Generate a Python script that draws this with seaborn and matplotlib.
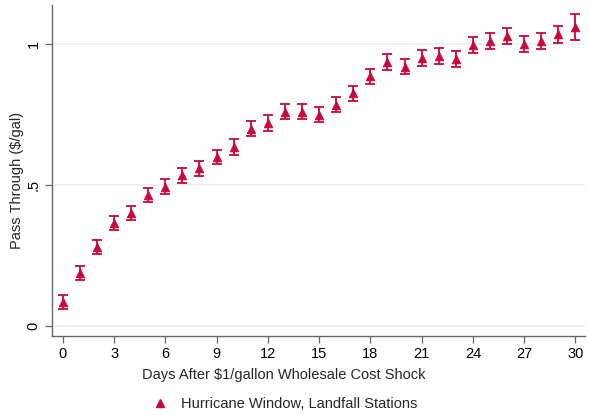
import matplotlib
matplotlib.use("Agg")
import matplotlib.pyplot as plt
import seaborn as sns
import numpy as np
import pandas as pd

days = list(range(0, 31))
pass_through = [0.085, 0.19, 0.28, 0.365, 0.40, 0.465, 0.495, 0.535, 0.56, 0.60, 0.635,
                0.70, 0.72, 0.76, 0.76, 0.75, 0.785, 0.825, 0.885, 0.935, 0.92,
                0.95, 0.957, 0.947, 0.995, 1.01, 1.028, 1.0, 1.01, 1.035, 1.06]
half_ci = [0.025, 0.025, 0.025, 0.025, 0.025, 0.025, 0.026, 0.026, 0.026, 0.026, 0.027,
           0.027, 0.027, 0.027, 0.027, 0.027, 0.027, 0.027, 0.027, 0.028, 0.028,
           0.028, 0.028, 0.028, 0.028, 0.028, 0.028, 0.028, 0.028, 0.03, 0.046]
x_ticks = [0, 3, 6, 9, 12, 15, 18, 21, 24, 27, 30]
y_ticks = [0, 0.5, 1]
y_tick_labels = ["0", ".5", "1"]
series_name = "Hurricane Window, Landfall Stations"

df = pd.DataFrame({"day": days, "pt": pass_through, "err": half_ci})

sns.set_theme(style="white")
plt.rcParams["font.family"] = ["Liberation Sans", "DejaVu Sans"]

color = "#C8073D"
fs = 10.5
fig = plt.figure(figsize=(5.89, 4.15), dpi=100)
ax = fig.add_axes([0.088, 0.19, 0.905, 0.798])

for yv in y_ticks:
    ax.axhline(yv, color="#EFEFEF", lw=1.2, zorder=0)

ax.errorbar(df["day"], df["pt"], yerr=df["err"], fmt="none", ecolor=color,
            elinewidth=1.3, capsize=3.5, capthick=1.3, zorder=2)
sns.scatterplot(data=df, x="day", y="pt", marker="^", s=40, color=color,
                edgecolor=color, linewidth=0.5, ax=ax, zorder=3, label=series_name,
                legend=False)

ax.set_xlim(-0.64, 30.55)
ax.set_ylim(-0.035, 1.138)
ax.set_xticks(x_ticks)
ax.set_xticklabels([str(t) for t in x_ticks], fontsize=fs)
ax.set_yticks(y_ticks)
ax.set_yticklabels(y_tick_labels, fontsize=fs, rotation=90, va="center")
ax.set_xlabel("Days After $1/gallon Wholesale Cost Shock", fontsize=fs)
ax.set_ylabel("Pass Through ($/gal)", fontsize=fs)
ax.xaxis.set_label_coords(0.435, -0.095)
ax.yaxis.set_label_coords(-0.052, 0.47)

for side in ["top", "right"]:
    ax.spines[side].set_visible(False)
for side in ["left", "bottom"]:
    ax.spines[side].set_color("#666666")
    ax.spines[side].set_linewidth(1.0)
ax.tick_params(axis="both", which="major", direction="out", length=5, width=0.9,
               color="#666666", left=True, bottom=True, pad=3, labelcolor="black")

handle = plt.Line2D([], [], marker="^", color=color, linestyle="none", markersize=5.5)
fig.legend([handle], [series_name], loc="lower center", bbox_to_anchor=(0.478, -0.022),
           frameon=False, fontsize=fs, handletextpad=0.4)

fig.savefig("out.png", dpi=100)
